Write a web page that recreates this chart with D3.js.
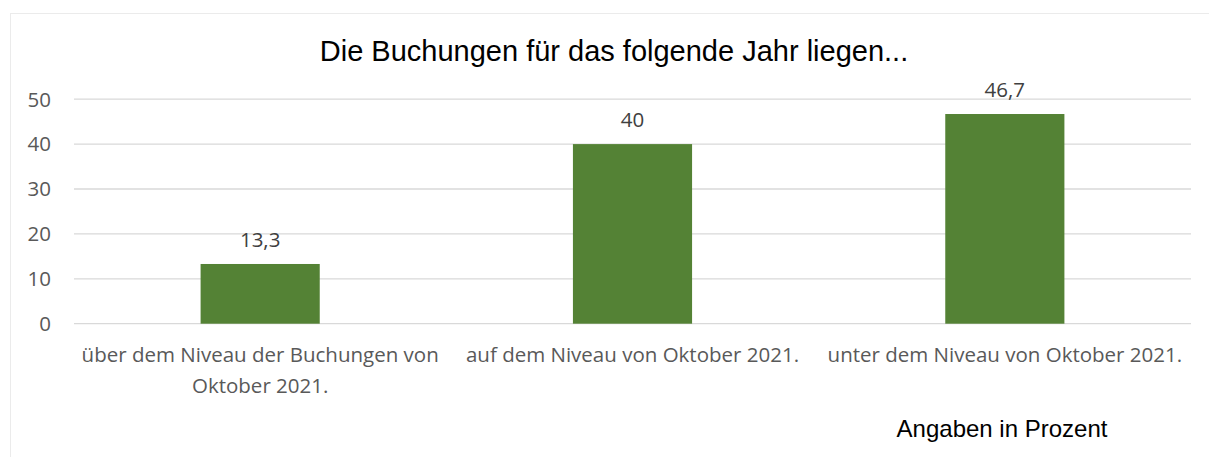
<!DOCTYPE html>
<html><head><meta charset="utf-8">
<script src="https://cdn.jsdelivr.net/npm/d3@7"></script>
<style>body{margin:0;background:#fff}svg{display:block}</style>
</head><body>
<svg id="c" width="1209" height="457"></svg>
<script>
const categories = ["über dem Niveau der Buchungen von Oktober 2021.", "auf dem Niveau von Oktober 2021.", "unter dem Niveau von Oktober 2021."];
const values = [13.3, 40, 46.7];
const valueLabels = ["13,3", "40", "46,7"];
const yTicks = [0, 10, 20, 30, 40, 50];
const title = "Die Buchungen für das folgende Jahr liegen...";
const note = "Angaben in Prozent";

(function(){
const svg = d3.select("#c");
const W = 1209, H = 457;
svg.append("rect").attr("x",10.5).attr("y",13.5).attr("width",W-10).attr("height",H)
  .attr("fill","#fff").attr("stroke","#ebebeb");

const pL = 74, pR = 1191, pT = 99.2, pB = 323.7;
const x = d3.scaleBand().domain(categories).range([pL,pR]).paddingInner(0.68).paddingOuter(0.34);
const y = d3.scaleLinear().domain([0,50]).range([pB, pT]);

const font = "'Open Sans', sans-serif";
const fs = 20.5;
svg.append("g").selectAll("line").data(yTicks).join("line")
  .attr("x1",pL).attr("x2",pR).attr("y1",d=>y(d)).attr("y2",d=>y(d))
  .attr("stroke","#d9d9d9").attr("stroke-width",1.3);
svg.append("g").selectAll("text").data(yTicks).join("text")
  .attr("x",51).attr("y",d=>y(d)).attr("dy","0.36em").attr("text-anchor","end")
  .attr("font-family",font).attr("font-size",fs).attr("fill","#595959").text(d=>d);

svg.append("g").selectAll("rect").data(values).join("rect")
  .attr("x",(d,i)=>x(categories[i])).attr("width",x.bandwidth())
  .attr("y",d=>y(d)).attr("height",d=>y(0)-y(d)).attr("fill","#548235");

svg.append("g").selectAll("text").data(values).join("text")
  .attr("x",(d,i)=>x(categories[i])+x.bandwidth()/2).attr("y",d=>y(d)-17)
  .attr("text-anchor","middle").attr("font-family",font).attr("font-size",fs).attr("fill","#404040")
  .text((d,i)=>valueLabels[i]);

const step = x.step();
const cg = svg.append("g");
categories.forEach((c,i)=>{
  const cx = x(c)+x.bandwidth()/2;
  const t = cg.append("text").attr("text-anchor","middle").attr("font-family",font)
    .attr("font-size",fs).attr("fill","#595959");
  const words = c.split(" ");
  let lines=[], cur=[];
  const probe = t.append("tspan");
  words.forEach(w=>{
    const test = cur.concat([w]).join(" ");
    probe.text(test);
    if (probe.node().getComputedTextLength() > step+4 && cur.length){ lines.push(cur.join(" ")); cur=[w]; }
    else cur.push(w);
  });
  lines.push(cur.join(" "));
  probe.remove();
  lines.forEach((l,j)=>t.append("tspan").attr("x",cx).attr("y",362+j*31).text(l));
});

svg.append("text").attr("x",614).attr("y",61).attr("text-anchor","middle")
  .attr("font-family","'Liberation Sans', Arial, sans-serif").attr("font-size",29).attr("fill","#000").text(title);
svg.append("text").attr("x",1002).attr("y",437).attr("text-anchor","middle")
  .attr("font-family","'Liberation Sans', Arial, sans-serif").attr("font-size",24).attr("fill","#000").text(note);
})();
</script>
</body></html>
